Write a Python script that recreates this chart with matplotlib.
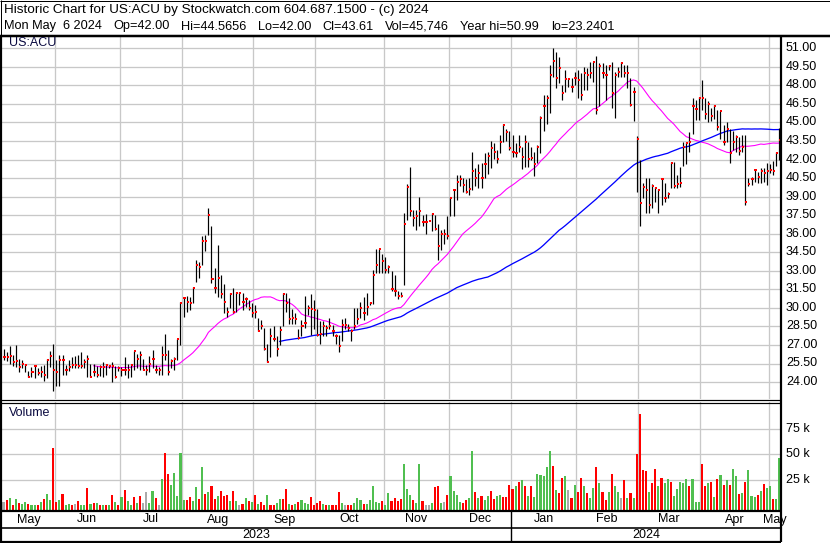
import numpy as np
import pandas as pd
import matplotlib
matplotlib.use("Agg")
import matplotlib.pyplot as plt

plt.rcParams['font.family'] = ['Liberation Sans', 'DejaVu Sans']

# ---------------- data ----------------
start_date = '2023-05-08'
end_date = '2024-05-06'
holidays = ['2023-05-29', '2023-06-19', '2023-07-04', '2023-09-04', '2023-11-23',
            '2023-12-25', '2024-01-01', '2024-01-15', '2024-02-19', '2024-03-29']

high = [26.7, 26.4, 26.9, 26.2, 27.0, 25.9, 25.8, 25.5, 24.9, 25.2,
        25.4, 25.1, 25.3, 25.4, 25.9, 26.5, 27.1, 25.8, 26.2, 26.2,
        25.4, 25.8, 26.0, 26.1, 26.2, 26.4, 25.9, 26.2, 25.5, 25.5,
        25.3, 25.4, 25.6, 25.5, 25.4, 25.6, 25.3, 25.3, 25.2, 26.0,
        25.5, 25.5, 26.5, 26.3, 26.5, 25.9, 25.4, 26.1, 26.6, 25.4,
        25.2, 26.9, 27.9, 26.6, 25.9, 26.0, 27.5, 30.5, 30.9, 31.0,
        30.9, 31.7, 33.9, 33.7, 35.8, 35.9, 38.1, 36.6, 33.2, 35.1,
        32.7, 31.9, 30.1, 31.2, 31.6, 31.3, 31.3, 31.2, 30.9, 30.6,
        30.4, 30.2, 29.2, 29.0, 28.35, 27.1, 28.35, 28.5, 27.7, 28.5,
        31.2, 31.2, 30.8, 29.9, 29.6, 28.3, 29.0, 31.0, 30.2, 31.1,
        30.6, 29.9, 28.9, 28.9, 28.6, 29.2, 28.6, 27.9, 27.8, 29.1,
        29.2, 28.7, 28.3, 30.0, 30.0, 30.5, 30.9, 31.2, 30.5, 33.1,
        34.8, 34.8, 34.4, 34.1, 33.5, 33.0, 32.7, 31.4, 31.3, 37.65,
        40.0, 41.4, 37.9, 37.9, 39.0, 37.5, 37.6, 37.0, 37.7, 37.5,
        36.8, 36.3, 36.35, 37.4, 39.0, 39.6, 40.75, 40.75, 40.5, 40.4,
        40.5, 42.6, 41.3, 41.6, 41.7, 42.5, 42.6, 43.5, 43.3, 42.8,
        44.0, 44.85, 44.5, 44.3, 44.0, 43.3, 44.0, 43.0, 44.0, 43.45,
        43.0, 42.6, 43.2, 45.5, 47.2, 47.2, 49.65, 50.99, 50.7, 50.3,
        48.0, 49.25, 48.6, 48.6, 49.1, 49.25, 49.0, 49.5, 49.4, 49.9,
        49.9, 50.4, 49.8, 49.8, 49.65, 49.65, 49.9, 49.1, 49.5, 49.9,
        49.65, 49.65, 48.6, 47.9, 43.9, 42.0, 40.1, 40.5, 40.5, 40.0,
        39.8, 39.65, 40.5, 40.1, 39.4, 41.8, 41.8, 40.75, 41.4, 43.45,
        43.45, 44.25, 47.0, 46.8, 47.1, 48.4, 46.95, 46.7, 46.15, 46.4,
        46.0, 45.93, 44.8, 45.0, 44.5, 44.3, 44.0, 43.85, 44.0, 44.0,
        40.5, 40.6, 41.2, 41.0, 41.35, 41.3, 41.7, 41.6, 41.9, 42.6,
        44.5656]

low = [25.8, 25.7, 25.5, 25.3, 25.2, 24.8, 25.1, 24.8, 24.4, 24.4,
       24.3, 24.6, 24.4, 24.1, 24.3, 25.2, 23.2401, 23.7, 23.7, 24.6,
       24.6, 24.9, 25.1, 25.1, 25.1, 25.1, 25.1, 24.4, 24.4, 24.5,
       24.4, 24.5, 24.4, 24.6, 25.1, 24.0, 24.3, 24.9, 24.5, 24.6,
       24.3, 24.4, 25.0, 25.1, 25.0, 25.0, 24.6, 24.8, 25.1, 24.7,
       24.6, 24.6, 25.8, 24.6, 25.1, 25.0, 25.8, 27.0, 29.3, 29.7,
       29.8, 30.4, 32.1, 32.4, 33.5, 34.6, 35.9, 32.0, 31.2, 30.9,
       30.8, 29.6, 29.3, 30.0, 29.6, 29.7, 30.2, 29.8, 30.1, 29.8,
       29.3, 29.2, 28.1, 28.3, 26.6, 25.6, 26.05, 27.3, 26.1, 27.0,
       28.5, 29.7, 28.7, 28.7, 28.7, 27.5, 27.7, 28.4, 29.4, 27.8,
       28.3, 27.7, 27.1, 27.7, 27.7, 28.3, 27.7, 27.1, 26.4, 27.3,
       28.3, 28.1, 27.3, 28.3, 28.7, 29.2, 29.0, 29.4, 30.2, 30.3,
       32.8, 32.8, 32.8, 32.8, 32.8, 31.4, 31.0, 30.7, 30.9, 31.85,
       37.1, 37.4, 36.6, 36.3, 36.6, 36.6, 35.97, 37.0, 36.2, 36.3,
       33.9, 34.7, 35.2, 35.6, 37.4, 37.4, 38.7, 39.9, 39.4, 39.3,
       39.1, 39.5, 39.9, 39.7, 39.7, 40.5, 40.8, 41.3, 42.05, 41.7,
       42.5, 43.45, 43.5, 42.8, 42.2, 42.2, 42.6, 41.2, 41.4, 41.4,
       41.95, 40.7, 41.7, 42.5, 44.3, 44.9, 45.8, 48.7, 47.8, 48.2,
       46.8, 47.5, 47.9, 47.5, 48.0, 46.95, 46.8, 47.6, 47.6, 48.6,
       48.3, 45.7, 46.3, 48.6, 46.8, 49.25, 46.2, 45.4, 48.7, 48.7,
       48.7, 47.8, 46.3, 45.1, 39.4, 36.6, 38.9, 37.7, 37.7, 38.05,
       38.6, 37.65, 38.3, 38.6, 38.9, 39.7, 39.7, 39.7, 39.8, 41.5,
       41.6, 42.6, 44.1, 45.2, 45.2, 46.0, 45.3, 45.0, 45.1, 45.3,
       44.4, 43.7, 43.2, 43.45, 41.7, 42.8, 42.6, 42.4, 42.6, 38.3,
       39.9, 39.95, 40.2, 40.1, 40.1, 40.2, 39.95, 40.9, 40.75, 41.5,
       42.0]

close = [26.0, 26.0, 26.1, 25.6, 25.7, 25.2, 25.5, 25.4, 24.4, 24.8,
         25.3, 24.7, 24.8, 24.6, 25.8, 26.1, 25.0, 24.8, 25.8, 25.8,
         25.0, 25.2, 25.4, 25.4, 25.3, 25.3, 25.6, 25.9, 24.4, 24.8,
         24.6, 25.2, 25.2, 25.4, 25.3, 25.3, 24.4, 25.1, 25.0, 25.0,
         25.0, 25.4, 26.5, 25.9, 26.2, 25.0, 25.0, 25.5, 25.9, 25.0,
         25.0, 26.2, 26.2, 24.8, 25.7, 25.9, 27.5, 30.4, 30.8, 30.5,
         30.4, 31.6, 33.5, 33.3, 35.4, 35.4, 37.5, 32.3, 31.6, 32.4,
         31.1, 30.5, 29.7, 31.1, 29.7, 31.2, 31.2, 30.5, 30.7, 30.0,
         29.6, 29.7, 28.1, 28.5, 26.65, 25.65, 27.7, 27.5, 26.7, 28.2,
         31.1, 30.4, 29.1, 29.2, 29.1, 27.6, 28.5, 28.8, 30.0, 29.9,
         29.8, 27.8, 27.9, 28.5, 28.4, 28.5, 28.1, 27.7, 26.9, 28.6,
         28.6, 28.4, 28.1, 28.5, 29.1, 30.0, 29.6, 30.1, 30.4, 32.7,
         33.5, 34.8, 33.8, 33.1, 33.3, 31.5, 31.4, 31.0, 31.0, 36.8,
         39.8, 37.8, 37.3, 37.4, 37.8, 36.97, 36.97, 37.0, 37.6, 36.4,
         35.0, 36.0, 36.0, 35.8, 38.9, 39.5, 40.2, 40.4, 39.95, 39.4,
         39.6, 41.1, 40.5, 40.9, 40.5, 41.6, 42.3, 42.96, 42.6, 42.05,
         43.45, 44.8, 44.2, 42.9, 42.6, 42.5, 43.0, 42.2, 43.45, 42.05,
         42.15, 41.6, 43.0, 45.4, 46.3, 46.95, 48.8, 50.0, 48.6, 49.4,
         47.4, 48.5, 48.5, 47.9, 48.6, 48.4, 47.2, 49.0, 48.8, 49.0,
         49.9, 46.0, 49.6, 49.0, 48.8, 49.6, 47.4, 48.8, 49.1, 49.8,
         49.0, 49.0, 46.4, 47.5, 43.65, 38.5, 39.8, 39.5, 38.3, 39.9,
         39.7, 39.5, 40.4, 38.9, 39.2, 41.75, 39.9, 40.0, 40.1, 43.0,
         43.3, 43.4, 46.3, 46.1, 47.0, 46.95, 45.7, 46.5, 45.55, 46.3,
         44.66, 45.9, 43.45, 44.5, 42.5, 43.4, 43.85, 42.7, 43.0, 38.6,
         40.0, 40.4, 41.15, 40.6, 41.1, 40.9, 41.1, 41.15, 41.1, 42.55,
         43.61]

# daily volume, thousands of shares
volume_k = [3.6, 5.5, 7.5, 0.5, 6.5, 2.6, 1.0, 3.6, 1.0, 0.3,
            0.3, 0.3, 3.6, 6.5, 11.4, 5.5, 56.2, 3.6, 5.5, 10.7,
            0.5, 1.6, 0.3, 1.6, 4.5, 0.6, 0.5, 17.2, 1.6, 2.6,
            2.6, 0.5, 0.5, 0.5, 0.6, 10.4, 3.6, 0.5, 8.4, 15.3,
            4.5, 0.6, 7.8, 2.6, 9.4, 2.6, 13.3, 2.6, 14.3, 7.5,
            0.6, 26.0, 51.3, 30.8, 20.1, 31.8, 9.4, 51.3, 5.5, 5.5,
            8.4, 4.5, 18.2, 6.5, 37.7, 11.4, 13.3, 19.2, 6.5, 9.4,
            14.3, 9.4, 10.4, 4.5, 14.3, 4.5, 0.3, 1.6, 7.5, 4.5,
            3.6, 10.4, 1.6, 3.6, 0.6, 10.4, 0.6, 0.6, 2.6, 6.5,
            6.5, 16.2, 1.6, 0.3, 1.6, 3.6, 5.5, 2.6, 1.6, 8.4,
            0.6, 2.6, 4.5, 1.6, 0.2, 0.3, 0.3, 0.6, 13.3, 2.6,
            0.6, 0.3, 0.3, 2.6, 7.5, 5.5, 1.6, 1.6, 5.5, 19.2,
            3.6, 2.6, 4.5, 0.6, 12.3, 4.5, 7.5, 4.5, 6.5, 40.6,
            16.2, 10.4, 5.5, 2.6, 40.6, 4.5, 0.3, 0.0, 2.6, 18.2,
            19.2, 2.6, 3.6, 10.4, 28.2, 14.3, 10.4, 3.6, 2.6, 5.5,
            7.5, 53.2, 13.3, 7.5, 9.4, 5.5, 9.4, 14.3, 6.5, 9.4,
            10.4, 8.4, 8.4, 20.1, 16.2, 19.2, 23.1, 25.0, 19.2, 9.4,
            19.2, 8.4, 30.8, 29.9, 28.9, 37.7, 53.2, 38.3, 15.3, 12.3,
            26.9, 28.9, 15.3, 7.5, 20.1, 13.3, 26.9, 19.2, 12.3, 7.5,
            17.2, 37.7, 22.1, 13.3, 5.5, 13.3, 30.0, 19.2, 13.3, 7.5,
            25.0, 7.5, 12.3, 7.5, 50.3, 89.3, 34.7, 33.8, 13.3, 22.1,
            35.7, 19.2, 26.9, 22.1, 26.0, 23.1, 9.4, 16.2, 23.1, 22.1,
            26.0, 19.2, 26.0, 3.0, 3.0, 40.6, 19.2, 22.1, 23.1, 8.4,
            26.0, 29.9, 20.1, 25.0, 20.1, 35.7, 28.9, 11.4, 12.3, 23.1,
            34.7, 9.4, 8.4, 10.4, 14.3, 21.1, 17.2, 19.2, 6.5, 6.5,
            45.7]

# volume bar colour codes, one per day: r = down, g = up, n = unchanged
volume_dir = ("nrgrgrggrg" "grgrggrrgr" "ggrnrggrgr" "grgrgrgrgr"
              "ggrgrnnggr" "ngrrgggggr" "rggrgrgrrg" "rrrgrgnrgr"
              "grgrrgrrgg" "rrgrgrgggr" "rrrgrgrrrg" "nrrgggrggg"
              "ggrggrrrrg" "ggrggrnngr" "rgnrggggrr" "ggrgrggrrg"
              "grrrrgrgrg" "rggggggrgr" "rgnrgrrgrg" "grgrrgrggn"
              "rgrgrrrrgr" "rgrggrgggg" "grgggrrgrg" "rgrgrggrgr"
              "gggrgrggrg" "g")

header1 = "Historic Chart for US:ACU by Stockwatch.com 604.687.1500 - (c) 2024"
header2_fields = ["Mon May  6 2024", "Op=42.00", "Hi=44.5656", "Lo=42.00",
                  "Cl=43.61", "Vol=45,746", "Year hi=50.99", "lo=23.2401"]
symbol = "US:ACU"
price_ticks = [24.0 + 1.5 * k for k in range(19)]
volume_ticks = [25, 50, 75]

# ---------------- layout ----------------
W, H = 830, 543
fig = plt.figure(figsize=(W / 100, H / 100), dpi=100)
fig.patch.set_facecolor('white')


def px_axes(x0, y0, x1, y1):
    return fig.add_axes([x0 / W, 1 - y1 / H, (x1 - x0) / W, (y1 - y0) / H])


dates = pd.bdate_range(start_date, end_date, freq='C', holidays=holidays)
n = len(close)
dates = dates[:n]
x = np.arange(n)
months = dates.to_period('M')
month_starts = [0] + [i for i in range(1, n) if months[i] != months[i - 1]]
month_bounds = month_starts + [n]

grid_c = '#c8c8c8'
PX = 72 / 100.0  # one pixel in points

# price panel
axp = px_axes(2, 37, 781, 399)
axp.set_xlim(-0.5, n - 0.5)
axp.set_ylim(22.63, 51.914)
axp.axis('off')
for t in price_ticks:
    axp.axhline(t, color=grid_c, lw=1.3 * PX, zorder=0)
for m in month_starts[1:]:
    axp.axvline(m - 0.5, color=grid_c, lw=1.3 * PX, zorder=0)

c = pd.Series(close)
ma30 = c.rolling(30).mean()
ma90 = c.rolling(90).mean()
axp.plot(x, ma30, color='#ff00ff', lw=1.1 * PX, zorder=2)
axp.plot(x, ma90, color='#0000ff', lw=1.3 * PX, zorder=2)
axp.vlines(x, low, high, color='black', lw=1.2 * PX, zorder=3)
axp.hlines(close, x - 0.05, x + 0.65, color='#ff0000', lw=2.0 * PX, zorder=4)

# volume panel
axv = px_axes(2, 402, 781, 510)
axv.set_xlim(-0.5, n - 0.5)
vbot = -4.2
axv.set_ylim(vbot, 101)
axv.axis('off')
for t in volume_ticks:
    axv.axhline(t, color=grid_c, lw=1.3 * PX, zorder=0)
for m in month_starts[1:]:
    axv.axvline(m - 0.5, color=grid_c, lw=1.3 * PX, zorder=0)
cmap = {'r': '#ff0000', 'g': '#50bf50', 'n': '#aaaaaa'}
vcols = [cmap[ch] for ch in volume_dir[:n]]
vcols += ['#50bf50'] * (n - len(vcols))
vol = np.array(volume_k)
axv.bar(x, vol - vbot + 0.4, bottom=vbot, width=0.68, color=vcols, zorder=2,
        linewidth=0)

# overlay for frames and text
ov = fig.add_axes([0, 0, 1, 1], zorder=10)
ov.set_xlim(0, W)
ov.set_ylim(H, 0)
ov.axis('off')
ov.patch.set_alpha(0)


def hl(y, x0, x1, lw=1.0):
    ov.plot([x0, x1], [y, y], color='black', lw=lw * PX, solid_capstyle='butt')


def vl(xp, y0, y1, lw=1.0):
    ov.plot([xp, xp], [y0, y1], color='black', lw=lw * PX, solid_capstyle='butt')


# header box
hl(0.5, 0, 830)
vl(0.5, 0, 36)
vl(829.5, 0, 36)
hl(35.5, 0, 830, 2.5)
# chart frame
vl(1.0, 35, 542, 2.2)
vl(781.0, 35, 542, 2.2)
hl(399.5, 0, 781, 1.2)
hl(402.5, 0, 781, 1.2)
hl(510.5, 0, 781, 2.2)
hl(527.5, 0, 781, 1.6)
hl(541.5, 0, 781, 2.2)

ov.text(4, 10, header1, fontsize=9.7, ha='left', va='center')

# second header line: fields spread between x=4 and x=614 with equal gaps
renderer = fig.canvas.get_renderer()
fs2 = 9.2
objs = [ov.text(0, 26.5, ft, fontsize=fs2, ha='left', va='center') for ft in header2_fields]
widths = [o.get_window_extent(renderer).width for o in objs]
gap = (614 - 4 - sum(widths)) / (len(objs) - 1)
cur = 4.0
for o, w_ in zip(objs, widths):
    o.set_x(cur)
    cur += w_ + gap

ov.text(9, 43, symbol, fontsize=9, ha='left', va='center', color='#0a0a40')
ov.text(9, 413, "Volume", fontsize=9, ha='left', va='center', color='#0a0a40')

# price labels
y51, y24 = 48.3, 382.0
for t in price_ticks:
    yp = y24 + (24.0 - t) * (y24 - y51) / 27.0
    ov.text(786, yp, f"{t:.2f}", fontsize=9, ha='left', va='center')
for t in volume_ticks:
    yp = 505.7 - t * 25.67 / 25.0
    ov.text(786, yp, f"{t} k", fontsize=9, ha='left', va='center')

# month labels and year labels
x_of = lambda i: 2 + (i + 0.5) * (779.0 / n)
for a, b in zip(month_bounds[:-1], month_bounds[1:]):
    xc = (x_of(a - 0.5) + x_of(b - 0.5)) / 2
    ov.text(xc, 519.5, dates[a].strftime('%b'), fontsize=9, ha='center', va='center')
years = dates.year
year_starts = [0] + [i for i in range(1, n) if years[i] != years[i - 1]]
year_bounds = year_starts + [n]
for a, b in zip(year_bounds[:-1], year_bounds[1:]):
    xc = (x_of(a - 0.5) + x_of(b - 0.5)) / 2
    ov.text(xc, 535, str(years[a]), fontsize=9, ha='center', va='center')
for ys in year_starts[1:]:
    vl(x_of(ys - 0.5), 510, 542, 1.4)

fig.savefig('out.png', dpi=100, facecolor='white')
